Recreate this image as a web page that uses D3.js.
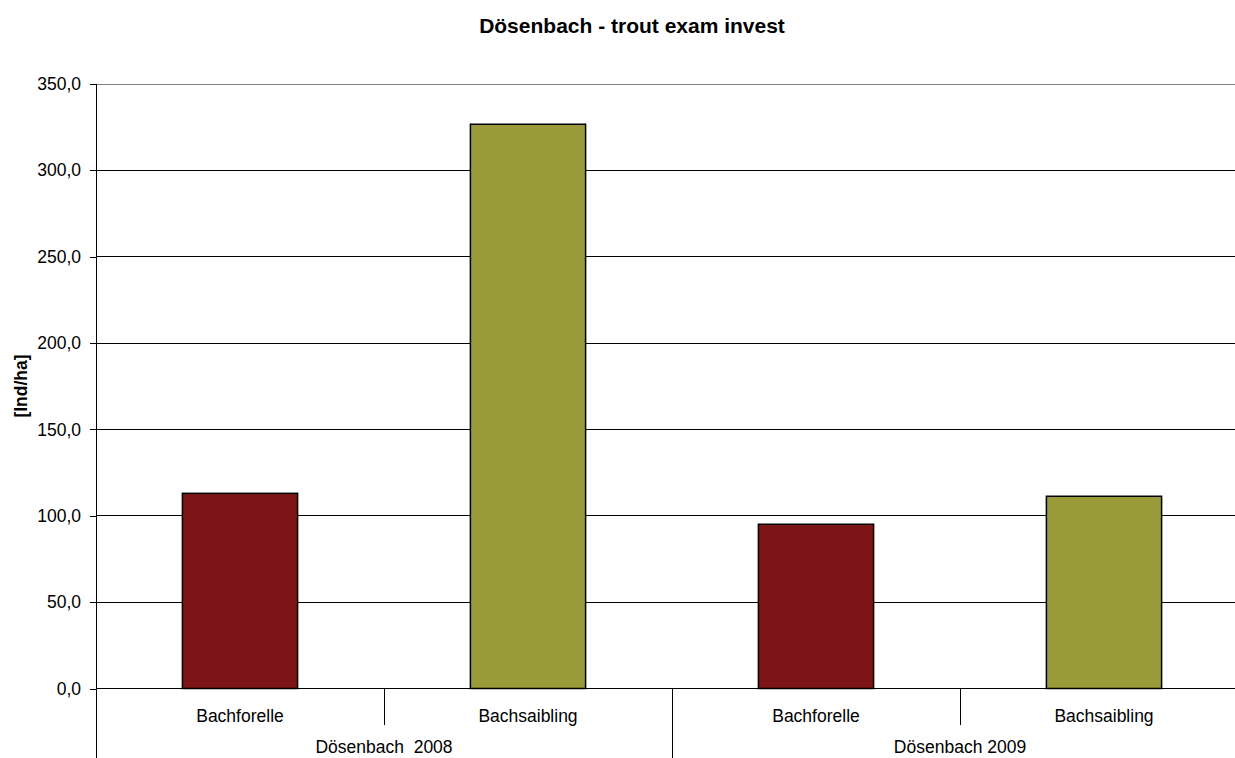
<!DOCTYPE html>
<html><head><meta charset="utf-8">
<script src="https://cdn.jsdelivr.net/npm/d3@7"></script>
<style>body{margin:0;background:#fff}svg{display:block;font-family:"Liberation Sans",Arial,sans-serif}</style>
</head><body>
<svg id="c" width="1235" height="758"></svg>
<script>
const categories = ["Bachforelle","Bachsaibling","Bachforelle","Bachsaibling"];
const groups = ["Dösenbach  2008","Dösenbach 2009"];
const values = [113.0, 326.7, 95.1, 111.3];
const barColors = ["#7d1416","#999a39","#7d1416","#999a39"];
const yTicks = [0,50,100,150,200,250,300,350];

(function(){
const svg = d3.select("#c");
const mLeft = 96, mRight = 1248, mTop = 84, mBottom = 688.5;
const x = d3.scaleBand().domain(d3.range(categories.length)).range([mLeft,mRight]).paddingInner(0).paddingOuter(0);
const y = d3.scaleLinear().domain([0,350]).range([mBottom,mTop]);
const fmt = v => d3.format(".1f")(v).replace(".", ",");

// gridlines
svg.append("g").selectAll("line").data(yTicks.filter(d=>d>0)).join("line")
  .attr("x1",mLeft).attr("x2",mRight).attr("y1",d=>y(d)).attr("y2",d=>y(d))
  .attr("stroke",d=>d===350?"#808080":"#000").attr("stroke-width",1).attr("shape-rendering","crispEdges");

// y axis
const ya = svg.append("g").attr("transform",`translate(${mLeft},0)`)
  .call(d3.axisLeft(y).tickValues(yTicks).tickFormat(fmt).tickSize(6).tickPadding(9));
ya.select(".domain").remove();
ya.selectAll("line").attr("stroke","#000").attr("shape-rendering","crispEdges");
ya.selectAll("text").attr("font-size",17.5).attr("fill","#000").attr("font-family","Liberation Sans, Arial, sans-serif");
svg.append("line").attr("x1",mLeft).attr("x2",mLeft).attr("y1",mTop).attr("y2",758).attr("stroke","#000").attr("shape-rendering","crispEdges");

// bars
const bw = x.bandwidth()*0.4;
svg.append("g").selectAll("rect").data(values).join("rect")
  .attr("x",(d,i)=>x(i)+x.bandwidth()/2-bw/2).attr("width",bw)
  .attr("y",d=>y(d)).attr("height",d=>mBottom-y(d))
  .attr("fill",(d,i)=>barColors[i]).attr("stroke","#000").attr("stroke-width",1.5);

// x baseline
svg.append("line").attr("x1",mLeft).attr("x2",mRight).attr("y1",mBottom).attr("y2",mBottom).attr("stroke","#000").attr("shape-rendering","crispEdges");

// category separators
[1,3].forEach(i=>{
  svg.append("line").attr("x1",x(i)).attr("x2",x(i)).attr("y1",mBottom).attr("y2",725).attr("stroke","#000").attr("shape-rendering","crispEdges");
});
svg.append("line").attr("x1",x(2)).attr("x2",x(2)).attr("y1",mBottom).attr("y2",758).attr("stroke","#000").attr("shape-rendering","crispEdges");

// category labels
svg.append("g").selectAll("text").data(categories).join("text")
  .attr("x",(d,i)=>x(i)+x.bandwidth()/2).attr("y",722).attr("text-anchor","middle")
  .attr("font-size",17.5).text(d=>d);
svg.append("g").selectAll("text").data(groups).join("text")
  .attr("x",(d,i)=>x(i*2)+x.bandwidth()).attr("y",753).attr("text-anchor","middle")
  .attr("font-size",17.5).style("white-space","pre").text(d=>d);

// title
svg.append("text").attr("x",632).attr("y",33).attr("text-anchor","middle")
  .attr("font-size",21).attr("font-weight","bold").text("Dösenbach - trout exam invest");
// y label
svg.append("text").attr("transform","translate(27,386) rotate(-90)").attr("text-anchor","middle")
  .attr("font-size",17.5).attr("font-weight","bold").text("[Ind/ha]");
})();
</script>
</body></html>
